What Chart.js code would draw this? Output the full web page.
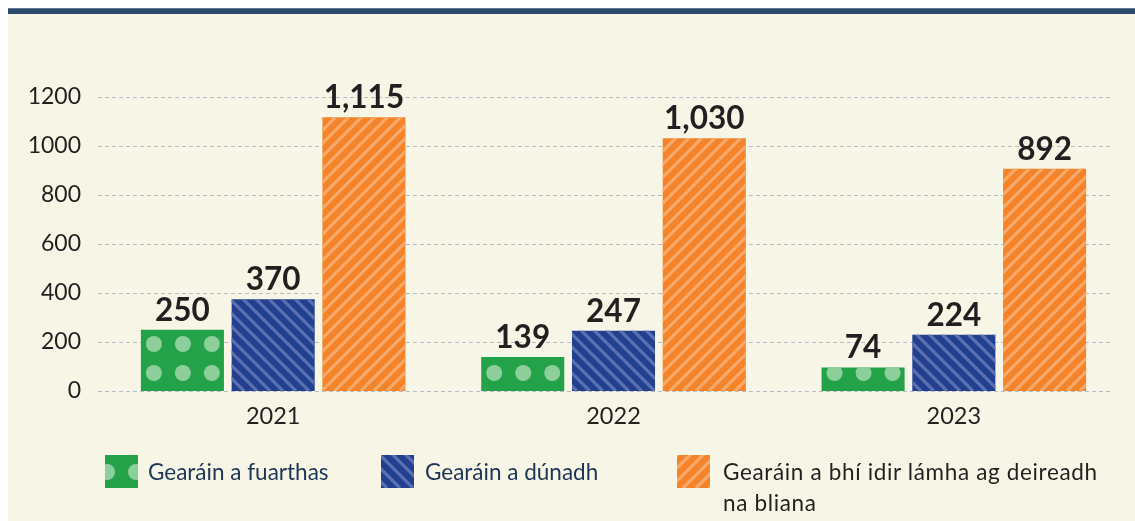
<!DOCTYPE html>
<html>
<head>
<meta charset="utf-8">
<script src="https://cdn.jsdelivr.net/npm/chart.js@4.4.1/dist/chart.umd.min.js"></script>
<style>
  html, body { margin: 0; padding: 0; background: #ffffff; }
  body { width: 1135px; height: 521px; position: relative; overflow: hidden; font-family: Lato, sans-serif; }
  #panel { position: absolute; left: 8px; top: 8px; right: 0; bottom: 0; background: #f7f6e6; }
  #topbar { position: absolute; left: 8px; top: 8px; right: 0; height: 6px; background: #2b4a6b; border-top: 1px solid #5a7896; box-sizing: border-box; }
  #chart { position: absolute; left: 0; top: 0; }
  .item { position: absolute; font-size: 22.5px; line-height: 31px; }
  .item canvas { position: absolute; left: 0; top: 0; }
  .item span { position: absolute; white-space: nowrap; }
</style>
</head>
<body>
<div id="panel"></div>
<div id="topbar"></div>
<canvas id="chart" width="1135" height="521"></canvas>
<div id="legend"></div>
<script>
// === DATA ===
const years = ["2021", "2022", "2023"];
const seriesNames = [
    "Gearáin a fuarthas",
    "Gearáin a dúnadh",
    "Gearáin a bhí idir lámha ag deireadh\nna bliana",
];
// bar heights as drawn in the picture
const receivedValues = [250, 139, 96];
const closedValues = [374, 246, 230];
const openValues = [1117, 1032, 907];
// numbers printed above the bars
const receivedLabels = ["250", "139", "74"];
const closedLabels = ["370", "247", "224"];
const openLabels = ["1,115", "1,030", "892"];
const yTicks = [0, 200, 400, 600, 800, 1000, 1200];

// === STYLE ===
const GREEN = "#23a24a", DOT = "#8dcf9b";
const BLUE = "#22408f", BLUE_STRIPE = "#5a70b0";
const ORANGE = "#f5832a", ORANGE_STRIPE = "#f8a96a";
const TEXT = "#231f20";

// circles anchored to the bar's bottom-left corner
function drawDots(ctx, left, top, w, h, x0, y0) {
    ctx.fillStyle = DOT;
    for (let cy = top + h - y0; cy > top - 10; cy -= 29) {
        for (let cx = left + x0; cx < left + w + 10; cx += 29) {
            ctx.beginPath();
            ctx.arc(cx, cy, 8, 0, Math.PI * 2);
            ctx.fill();
        }
    }
}

// diagonal stripes, dir = 1 for "/" and -1 for "\"
function drawStripes(ctx, left, top, w, h, dir, color) {
    ctx.strokeStyle = color;
    ctx.lineWidth = 3.2;
    const bottom = top + h;
    for (let k = -h - 13; k < w + h + 13; k += 13) {
        ctx.beginPath();
        ctx.moveTo(left + k, bottom);
        ctx.lineTo(left + k + dir * (h + 20), bottom - h - 20);
        ctx.stroke();
    }
}

function fillPattern(ctx, dsIndex, left, top, w, h, swatch) {
    ctx.save();
    ctx.beginPath();
    ctx.rect(left, top, w, h);
    ctx.clip();
    if (dsIndex === 0) drawDots(ctx, left, top, w, h, swatch ? 2 : 13, swatch ? 16 : 18);
    else if (dsIndex === 1) drawStripes(ctx, left, top, w, h, -1, BLUE_STRIPE);
    else drawStripes(ctx, left, top, w, h, 1, ORANGE_STRIPE);
    ctx.restore();
}

const labelSets = [receivedLabels, closedLabels, openLabels];

const dashedGrid = {
    id: "dashedGrid",
    beforeDatasetsDraw(chart) {
        const ctx = chart.ctx;
        const y = chart.scales.y;
        ctx.save();
        ctx.strokeStyle = "#b7bcc5";
        ctx.lineWidth = 1;
        ctx.setLineDash([4, 3]);
        yTicks.forEach((v) => {
            const py = Math.round(y.getPixelForValue(v)) + 0.5;
            ctx.beginPath();
            ctx.moveTo(98, py);
            ctx.lineTo(1112, py);
            ctx.stroke();
        });
        ctx.restore();
    },
};

const barDecor = {
    id: "barDecor",
    afterDatasetsDraw(chart) {
        const ctx = chart.ctx;
        chart.data.datasets.forEach((ds, i) => {
            chart.getDatasetMeta(i).data.forEach((bar, j) => {
                const p = bar.getProps(["x", "y", "base", "width"], true);
                const left = p.x - p.width / 2;
                fillPattern(ctx, i, left, p.y, p.width, p.base - p.y, false);

                ctx.save();
                ctx.fillStyle = TEXT;
                ctx.font = "bold 31.5px Lato";
                ctx.textAlign = "center";
                ctx.textBaseline = "alphabetic";
                ctx.fillText(labelSets[i][j], p.x, p.y - 9);
                ctx.restore();
            });
        });
    },
};

new Chart(document.getElementById("chart"), {
    type: "bar",
    data: {
        labels: years,
        datasets: [
            { label: seriesNames[0], data: receivedValues, backgroundColor: GREEN },
            { label: seriesNames[1], data: closedValues, backgroundColor: BLUE },
            { label: seriesNames[2], data: openValues, backgroundColor: ORANGE },
        ],
    },
    options: {
        responsive: false,
        animation: false,
        devicePixelRatio: 1,
        categoryPercentage: 0.8,
        barPercentage: 0.915,
        layout: { padding: { left: 0, right: 11, top: 97, bottom: 0 } },
        plugins: { legend: { display: false }, tooltip: { enabled: false } },
        scales: {
            x: {
                grid: { display: false, drawTicks: false },
                border: { display: false },
                ticks: { color: TEXT, font: { family: "Lato", size: 23.5 }, padding: 11 },
                afterFit: (s) => { s.height = 130; },
            },
            y: {
                min: 0,
                max: 1200,
                grid: { display: false, drawTicks: false },
                border: { display: false },
                ticks: {
                    stepSize: 200,
                    color: TEXT,
                    font: { family: "Lato", size: 23 },
                    padding: 22,
                    callback: (v) => String(v),
                },
                afterFit: (s) => { s.width = 103; },
            },
        },
    },
    plugins: [dashedGrid, barDecor],
});

// === LEGEND (html, wraps the long label) ===
const legendItems = [
    { left: 105, textLeft: 43, color: GREEN, textColor: "#1d3557", spacing: 0 },
    { left: 381, textLeft: 44, color: BLUE, textColor: "#1d3557", spacing: 0 },
    { left: 677, textLeft: 46, color: ORANGE, textColor: TEXT, spacing: 0.65 },
];
const legendEl = document.getElementById("legend");
legendItems.forEach((it, i) => {
    const div = document.createElement("div");
    div.className = "item";
    div.style.left = it.left + "px";
    div.style.top = "455px";
    const c = document.createElement("canvas");
    c.width = 33;
    c.height = 33;
    const cx = c.getContext("2d");
    cx.fillStyle = it.color;
    cx.fillRect(0, 0, 33, 33);
    fillPattern(cx, i, 0, 0, 33, 33, true);
    div.appendChild(c);
    const span = document.createElement("span");
    span.style.left = it.textLeft + "px";
    span.style.top = "1px";
    span.style.color = it.textColor;
    span.style.letterSpacing = it.spacing + "px";
    span.innerHTML = seriesNames[i].replace("\n", "<br>");
    div.appendChild(span);
    legendEl.appendChild(div);
});
</script>
</body>
</html>
